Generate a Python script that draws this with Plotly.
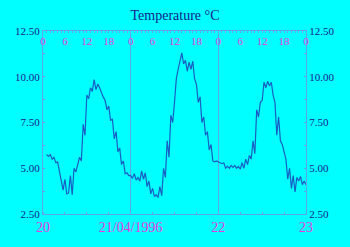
import plotly.graph_objects as go
import pandas as pd

# Half-hourly temperature readings (°C)
start_time = "1996-04-20 01:00"
day20 = [5.75, 5.65, 5.75, 5.5, 5.6, 5.3, 5.35, 4.8, 4.3, 3.8, 4.4, 3.6, 3.65, 4.6, 3.55,
         5.0, 4.8, 5.3, 5.6, 5.4, 7.4, 6.8, 9.0, 8.8, 9.4, 9.2, 9.85, 9.3, 9.6, 9.4, 9.1,
         8.9, 8.7, 8.2, 8.4, 7.6, 7.7, 6.6, 7.0, 5.9, 6.1, 5.2, 5.4, 4.7, 4.75, 4.6]
day21 = [4.6, 4.45, 4.7, 4.35, 4.5, 4.3, 4.85, 4.4, 4.75, 4.0, 4.3, 3.6, 3.9, 3.45, 3.55,
         3.4, 4.0, 3.5, 5.0, 4.5, 6.5, 5.6, 7.9, 7.5, 8.6, 9.9, 10.4, 10.8, 11.3, 10.7, 10.9,
         10.3, 10.8, 10.4, 10.85, 9.9, 9.6, 8.6, 8.9, 7.5, 7.8, 6.8, 7.0, 6.0, 6.3, 5.4,
         5.35, 5.4]
day22 = [5.35, 5.3, 5.25, 5.3, 5.0, 5.1, 5.0, 5.15, 5.05, 5.15, 5.0, 5.1, 4.95, 5.3, 5.0,
         5.5, 5.2, 5.7, 5.5, 6.5, 5.8, 8.2, 7.8, 8.6, 8.7, 9.7, 9.4, 9.75, 9.5, 9.7, 9.0,
         8.6, 6.8, 7.8, 6.5, 6.3, 5.9, 5.5, 4.4, 5.0, 3.9, 4.6, 3.7, 4.5, 4.3, 4.55, 4.1,
         4.3, 4.1]

temps = day20 + day21 + day22
times = pd.date_range(start_time, periods=len(temps), freq="30min")

day_ticks = ["1996-04-20", "1996-04-21", "1996-04-22", "1996-04-23"]
day_labels = ["20", "21/04/1996", "22", "23"]
hour_ticks = list(pd.date_range("1996-04-20", "1996-04-23", freq="6h"))
hour_labels = [str(t.hour) for t in hour_ticks]
y_ticks = [2.5, 5.0, 7.5, 10.0, 12.5]
y_labels = ["2.50", "5.00", "7.50", "10.00", "12.50"]

AX = "#5aa6ee"
NAVY = "#1a1a8c"
MAG = "#e838e8"
FONT = "Liberation Serif"
HOUR_MS = 3600000

fig = go.Figure()
fig.add_trace(go.Scatter(x=times, y=temps, mode="lines",
                         line=dict(color="#1a5ec4", width=1.2), showlegend=False))
fig.add_trace(go.Scatter(x=times, y=temps, mode="lines", xaxis="x2", yaxis="y2",
                         line=dict(color="rgba(0,0,0,0)", width=0), showlegend=False,
                         hoverinfo="skip"))
fig.add_trace(go.Scatter(x=times, y=temps, mode="lines", xaxis="x3", yaxis="y",
                         line=dict(color="rgba(0,0,0,0)", width=0), showlegend=False,
                         hoverinfo="skip"))

xr = ["1996-04-20 00:00", "1996-04-23 00:00"]
fig.update_layout(
    width=350, height=247,
    margin=dict(l=43, r=44, t=31, b=31),
    paper_bgcolor="#00ffff", plot_bgcolor="#00ffff",
    title=dict(text="Temperature °C", x=0.5, xanchor="center", y=0.94, yanchor="middle",
               font=dict(family=FONT, size=14, color=NAVY)),
    xaxis=dict(range=xr, tickvals=day_ticks, ticktext=day_labels,
               tickfont=dict(family=FONT, size=14, color=MAG),
               showline=True, linecolor=AX, linewidth=1,
               showgrid=True, gridcolor=AX, gridwidth=1,
               ticks="", zeroline=False,
               minor=dict(ticks="inside", ticklen=2, tickcolor=AX, dtick=6 * HOUR_MS,
                          showgrid=False)),
    # top hour labels, drawn just below the top frame line
    xaxis2=dict(range=xr, overlaying="x", side="top", anchor="free", position=0.912,
                tickvals=hour_ticks, ticktext=hour_labels,
                tickfont=dict(family=FONT, size=11, color=MAG),
                showline=False, ticks="", showgrid=False, zeroline=False),
    # top frame line with hourly ticks
    xaxis3=dict(range=xr, overlaying="x", side="top", anchor="y",
                showticklabels=False, showline=True, linecolor=AX, linewidth=1,
                ticks="inside", ticklen=2, tickcolor=AX, dtick=HOUR_MS,
                showgrid=False, zeroline=False),
    yaxis=dict(range=[2.5, 12.5], tickvals=y_ticks, ticktext=y_labels,
               tickfont=dict(family=FONT, size=11, color=NAVY),
               showline=True, linecolor=AX, linewidth=1, showgrid=False,
               ticks="inside", ticklen=2, tickcolor=AX, zeroline=False,
               minor=dict(ticks="inside", ticklen=2, tickcolor=AX, dtick=1.25)),
    yaxis2=dict(range=[2.5, 12.5], overlaying="y", side="right", anchor="x",
                tickvals=y_ticks, ticktext=y_labels,
                tickfont=dict(family=FONT, size=11, color=NAVY),
                showline=True, linecolor=AX, linewidth=1, showgrid=False,
                ticks="inside", ticklen=2, tickcolor=AX, zeroline=False,
                minor=dict(ticks="inside", ticklen=2, tickcolor=AX, dtick=1.25)),
)

fig.write_html("out.html")
